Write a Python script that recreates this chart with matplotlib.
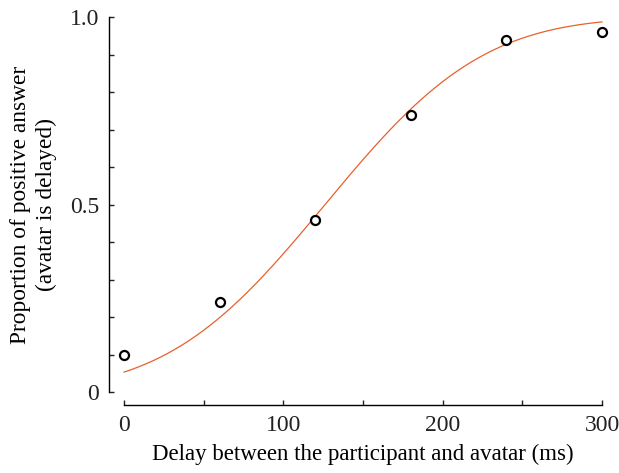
import math
import numpy as np
import matplotlib
matplotlib.use("Agg")
import matplotlib.pyplot as plt
from matplotlib.ticker import MultipleLocator

plt.rcParams['font.family'] = ['Liberation Serif', 'DejaVu Serif']
plt.rcParams['mathtext.fontset'] = 'stix'

# Data
delays = [0, 60, 120, 180, 240, 300]
proportions = [0.10, 0.24, 0.46, 0.74, 0.94, 0.96]
# Fitted cumulative-normal psychometric curve parameters
fit_mu = 126.2
fit_sigma = 78.1
x_ticks = [0, 100, 200, 300]
x_ticklabels = ['0', '100', '200', '300']
y_ticks = [0, 0.5, 1.0]
y_ticklabels = ['0', '0.5', '1.0']

xs = np.linspace(0, 300, 400)
ys = np.array([0.5 * (1 + math.erf((x - fit_mu) / (fit_sigma * math.sqrt(2)))) for x in xs])

fig = plt.figure(figsize=(6.19, 4.73), dpi=100)
ax = fig.add_axes([124/619, 1 - 392/473, 478/619, 375/473])
ax.plot(xs, ys, color='#E8602C', lw=0.9, clip_on=False)
ax.plot(delays, proportions, 'o', mfc='white', mec='black', mew=1.6, ms=6.5, clip_on=False, zorder=3)

ax.set_xlim(0, 300)
ax.set_ylim(0, 1)
for s in ['top', 'right']:
    ax.spines[s].set_visible(False)
ax.spines['left'].set_position(('outward', 15 * 0.72))
ax.spines['bottom'].set_position(('outward', 13 * 0.72))
ax.spines['left'].set_linewidth(1.0)
ax.spines['bottom'].set_linewidth(1.0)

ax.set_xticks(x_ticks)
ax.set_xticklabels(x_ticklabels)
ax.set_yticks(y_ticks)
ax.set_yticklabels(y_ticklabels)
ax.xaxis.set_minor_locator(MultipleLocator(50))
ax.yaxis.set_minor_locator(MultipleLocator(0.1))
ax.tick_params(which='both', direction='in', length=3.6, width=1.0, labelsize=17, colors='#222222')
ax.tick_params(axis='x', pad=7)
ax.tick_params(axis='y', pad=7)

ax.set_xlabel('Delay between the participant and avatar (ms)', fontsize=16.5, labelpad=6)
ax.set_ylabel('Proportion of positive answer\n(avatar is delayed)', fontsize=16.8, labelpad=9, linespacing=1.3)

fig.savefig('out.png', dpi=100)
